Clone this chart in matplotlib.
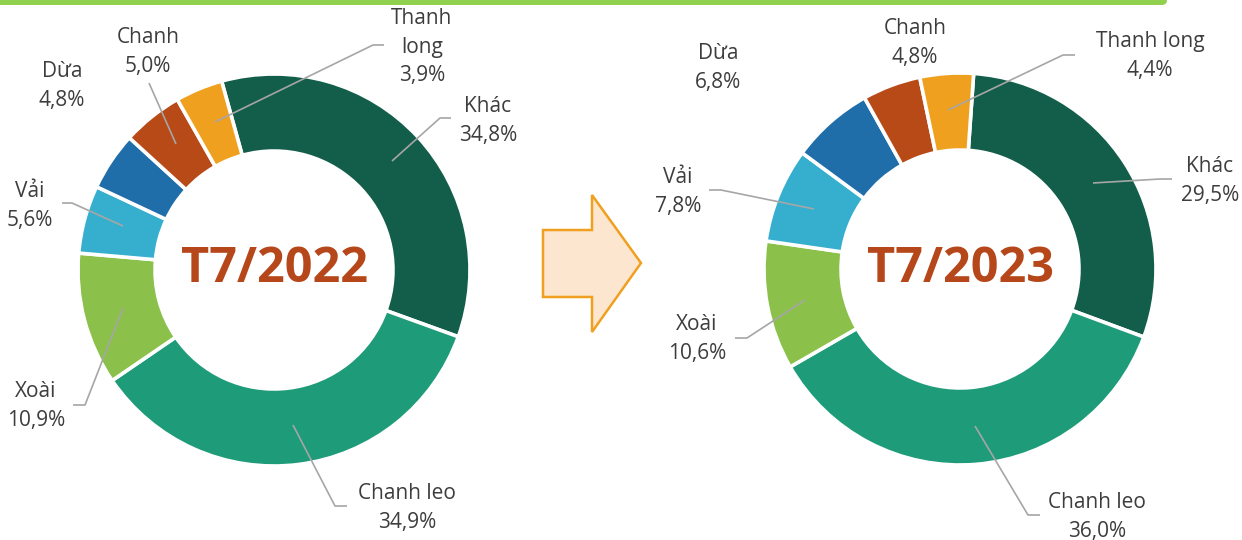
import matplotlib
matplotlib.use("Agg")
import matplotlib.pyplot as plt
from matplotlib.patches import Polygon, FancyBboxPatch

plt.rcParams['font.family'] = ['Open Sans', 'DejaVu Sans']

# ---- data ----
categories = ["Khác", "Chanh leo", "Xoài", "Vải", "Dừa", "Chanh", "Thanh long"]
share_2022 = [34.8, 34.9, 10.9, 5.6, 4.8, 5.0, 3.9]
share_2023 = [29.5, 36.0, 10.6, 7.8, 6.8, 4.8, 4.4]
titles = ["T7/2022", "T7/2023"]

colors = ["#135E4A", "#1E9B79", "#8BC14A", "#36AFCF", "#1F6EAA", "#B84A18", "#F0A01F"]
TEXT = "#3D3D3D"
LEAD = "#A6A6A6"

W, H = 1242, 540
fig = plt.figure(figsize=(W / 100, H / 100), dpi=100)

R = 196
charts = [
    dict(cx=274, cy=270, values=share_2022, title=titles[0], start=105.5,
         labels={
             "Khác": dict(xy=(488, 121), lead=[(451, 118), (440, 118), (392, 161)]),
             "Chanh leo": dict(xy=(407, 508), lead=[(347, 506), (335, 506), (293, 425)]),
             "Xoài": dict(xy=(36, 406), lead=[(73, 405), (85, 405), (123, 308)]),
             "Vải": dict(xy=(30, 206), lead=[(62, 203), (72, 203), (123, 226)]),
             "Dừa": dict(xy=(62, 86), lead=None),
             "Chanh": dict(xy=(148, 52), lead=[(149, 83), (176, 144)]),
             "Thanh long": dict(xy=(422, 47), name="Thanh\nlong",
                                lead=[(384, 45), (373, 45), (215, 122)]),
         }),
    dict(cx=960, cy=269, values=share_2023, title=titles[1], start=86.0,
         labels={
             "Khác": dict(xy=(1210, 181), lead=[(1172, 179), (1160, 179), (1093, 183)]),
             "Chanh leo": dict(xy=(1097, 517), lead=[(1040, 515), (1028, 515), (975, 426)]),
             "Xoài": dict(xy=(697, 339), lead=[(735, 338), (747, 338), (805, 300)]),
             "Vải": dict(xy=(678, 192), lead=[(709, 190), (721, 190), (814, 209)]),
             "Dừa": dict(xy=(718, 68), lead=None),
             "Chanh": dict(xy=(915, 43), lead=None),
             "Thanh long": dict(xy=(1150, 56), lead=[(1075, 55), (1063, 55), (948, 110)]),
         }),
]

for ch in charts:
    cx, cy = ch["cx"], ch["cy"]
    ax = fig.add_axes([(cx - R) / W, 1 - (cy + R) / H, 2 * R / W, 2 * R / H])
    ax.pie(ch["values"], colors=colors, startangle=ch["start"], counterclock=False,
           radius=1.0, wedgeprops=dict(width=0.393, edgecolor="white", linewidth=2.6))
    ax.set_xlim(-1, 1)
    ax.set_ylim(-1, 1)
    ax.axis("off")

# overlay in pixel coordinates
ov = fig.add_axes([0, 0, 1, 1])
ov.set_xlim(0, W)
ov.set_ylim(H, 0)
ov.axis("off")

# top green bar
bar = FancyBboxPatch((-20, -10), 1187, 15, boxstyle="round,pad=0,rounding_size=5",
                     facecolor="#92D050", edgecolor="none")
ov.add_patch(bar)

# arrow
arrow = Polygon([(543, 230), (592, 230), (592, 195), (641, 263), (592, 332),
                 (592, 297), (543, 297)], closed=True,
                facecolor="#FCE6CF", edgecolor="#F0A020", linewidth=1.8, joinstyle="miter")
ov.add_patch(arrow)

for ch in charts:
    ov.text(ch["cx"], ch["cy"], ch["title"], ha="center", va="center",
            fontsize=35, fontweight="bold", color="#B5471A")
    for cat, val in zip(categories, ch["values"]):
        spec = ch["labels"][cat]
        name = spec.get("name", cat)
        txt = f"{name}\n{val:.1f}%".replace(".", ",")
        x, y = spec["xy"]
        ov.text(x, y, txt, ha="center", va="center", fontsize=15, color=TEXT,
                linespacing=1.5)
        if spec["lead"]:
            xs = [p[0] for p in spec["lead"]]
            ys = [p[1] for p in spec["lead"]]
            ov.plot(xs, ys, color=LEAD, lw=1.2, solid_capstyle="butt")

fig.savefig("out.png", dpi=100)
